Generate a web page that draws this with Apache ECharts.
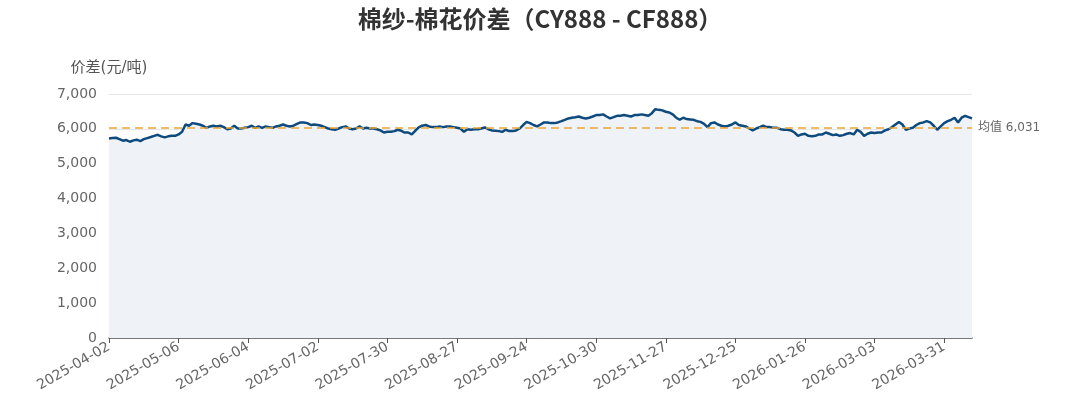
<!DOCTYPE html>
<html>
<head>
<meta charset="utf-8">
<script src="https://cdn.jsdelivr.net/npm/echarts@6/dist/echarts.min.js"></script>
<style>
html,body{margin:0;padding:0;background:#fff;}
#chart{width:1080px;height:407px;}
</style>
</head>
<body>
<div id="chart"></div>
<script>
// ---- data ----
const TITLE = '棉纱-棉花价差（CY888 - CF888）';
const Y_NAME = '价差(元/吨)';
const START_DATE = '2025-04-02';
const END_DATE = '2026-04-13';
// exchange holidays falling on weekdays
const HOLIDAYS = ['2025-04-04','2025-05-01','2025-05-02','2025-05-05','2025-06-02',
  '2025-10-01','2025-10-02','2025-10-03','2025-10-06','2025-10-07','2025-10-08',
  '2026-01-01','2026-01-02','2026-02-16','2026-02-17','2026-02-18','2026-02-19','2026-02-20','2026-02-23',
  '2026-04-06'];
const SPREAD = [
5725,5735,5745,5705,5660,5680,5630,5670,5690,5650,
5705,5735,5765,5800,5830,5785,5755,5785,5800,5800,
5840,5915,6125,6090,6165,6145,6125,6090,6030,6070,
6090,6070,6090,6050,5990,6010,6090,6010,6010,6030,
6050,6090,
6030,6070,6030,6070,6050,6030,6070,6090,6125,6090,6070,6090,6145,6185,6185,6165,6110,6125,6110,6090,6050,6010,5990,5975,6010,6050,6070,6010,5990,6010,6070,6010,6030,6010,6010,5990,5955,5895,5915,5915,5935,5975,
5945,5895,5895,5840,5945,6040,6090,6110,6070,6050,6050,6070,6050,6070,6070,6050,6030,6010,5915,5990,5975,5990,5990,6010,6040,5990,5955,5945,5935,5915,5975,5935,5935,5955,6010,6110,6200,6165,6110,6070,6125,6185,
6185,6165,6165,6185,6220,6260,6300,6320,6335,6355,6320,6300,6320,6355,6395,6395,6415,6355,6300,6335,6375,6375,6395,6375,6355,6395,6395,6415,6395,6375,6450,6565,6545,6530,6490,6470,6415,6320,6260,6320,6280,
6270,6260,6220,6200,6145,6050,6165,6185,6125,6090,6070,6090,6125,6185,6110,6090,6070,6010,5955,6010,6050,6090,6050,6050,6030,6030,5990,5975,5975,5955,5895,5800,5840,5860,5800,5785,5800,5840,5840,5895,5860,5820,
5840,5800,5820,5860,5880,5840,5975,5915,5800,5860,5895,5880,5895,5895,5955,5990,6050,6125,6200,6125,5975,6010,6030,6110,6165,6185,6220,6185,6090,5975,6070,6165,6220,6260,6320,6185,6320,6375,6335,6300
];
const MEAN = 6031;
const MEAN_LABEL = '均值 6,031';
const Y_MIN = 0, Y_MAX = 7000, Y_STEP = 1000;

// trading-day calendar
function tradingDays(start, end, holidays) {
  const hs = new Set(holidays);
  const out = [];
  const d = new Date(start + 'T00:00:00Z');
  const e = new Date(end + 'T00:00:00Z');
  while (d <= e) {
    const s = d.toISOString().slice(0, 10);
    const wd = d.getUTCDay();
    if (wd !== 0 && wd !== 6 && !hs.has(s)) out.push(s);
    d.setUTCDate(d.getUTCDate() + 1);
  }
  return out;
}
const DATES = tradingDays(START_DATE, END_DATE, HOLIDAYS);

const chart = echarts.init(document.getElementById('chart'), null, {renderer: 'canvas'});
const fmt = v => String(v).replace(/\B(?=(\d{3})+(?!\d))/g, ',');
chart.setOption({
  animation: false,
  backgroundColor: '#ffffff',
  title: {
    text: TITLE,
    left: 'center',
    top: 2,
    textStyle: {fontFamily: 'Noto Sans CJK SC', fontSize: 24, fontWeight: 'bold', color: '#333333'}
  },
  grid: {left: 109, right: 108, top: 94, bottom: 69, containLabel: false},
  xAxis: {
    type: 'category',
    data: DATES,
    boundaryGap: false,
    axisLine: {lineStyle: {color: '#555555', width: 1.5}},
    axisTick: {interval: 19, length: 5, lineStyle: {color: '#555555'}},
    axisLabel: {interval: 19, rotate: 30, fontSize: 14, color: '#666666', fontFamily: 'DejaVu Sans', margin: 8}
  },
  yAxis: {
    type: 'value',
    min: Y_MIN, max: Y_MAX, interval: Y_STEP,
    name: Y_NAME,
    nameGap: 18,
    nameTextStyle: {fontSize: 15, color: '#555555', fontFamily: 'DejaVu Sans, Noto Sans CJK SC'},
    axisLine: {show: false},
    axisTick: {show: false},
    axisLabel: {fontSize: 14, color: '#666666', fontFamily: 'DejaVu Sans', formatter: fmt, margin: 12},
    splitLine: {lineStyle: {color: '#e6e6e6', width: 1}}
  },
  series: [{
    type: 'line',
    data: SPREAD,
    symbol: 'none',
    smooth: false,
    lineStyle: {color: '#0d4a7e', width: 2.5},
    itemStyle: {color: '#0d4a7e'},
    areaStyle: {color: '#eff2f6', opacity: 1},
    markLine: {
      silent: true,
      symbol: 'none',
      data: [{yAxis: MEAN}],
      lineStyle: {color: '#e9a53a', type: [8, 5], width: 1.5},
      label: {position: 'end', formatter: MEAN_LABEL, fontSize: 12, color: '#666666', fontFamily: 'DejaVu Sans, Noto Sans CJK SC', distance: 6}
    }
  }]
});
</script>
</body>
</html>
